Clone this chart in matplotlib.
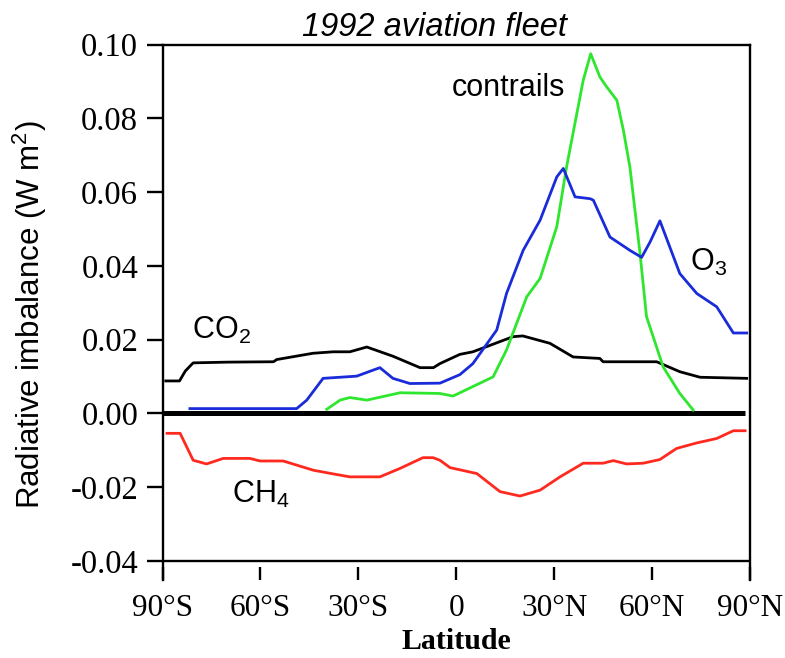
import matplotlib
matplotlib.use("Agg")
import matplotlib.pyplot as plt

plt.rcParams['font.family'] = ['Liberation Sans', 'DejaVu Sans']
plt.rcParams['mathtext.fontset'] = 'custom'
plt.rcParams['mathtext.rm'] = 'Liberation Sans'
plt.rcParams['mathtext.it'] = 'Liberation Sans:italic'

# ---- data (latitude in degrees, radiative imbalance in W m^-2) ----
co2_lat = [-89, -84.8, -83, -80.6, -70, -56, -55, -43.9, -37.7, -32.6, -27.4, -19.4,
           -11.1, -7, -5, 1.1, 5.1, 17.4, 20.4, 28.7, 35.8, 44, 45, 61.4, 68.5, 74.7, 89]
co2_val = [0.0088, 0.0088, 0.0115, 0.0137, 0.0139, 0.014, 0.0146, 0.0163, 0.0167, 0.0167,
           0.018, 0.0155, 0.0124, 0.0124, 0.0135, 0.016, 0.0167, 0.0208, 0.021, 0.019,
           0.0153, 0.0149, 0.014, 0.014, 0.0113, 0.0098, 0.0095]

o3_lat = [-81.6, -48.9, -45.8, -40.8, -30.5, -23.4, -19.4, -14.2, -5, 1.1, 5.1, 12.4,
          15.4, 20.5, 25.7, 30.8, 32.8, 36.4, 41, 42, 47.1, 53.2, 56.8, 59.4, 62.4,
          68.5, 73.7, 79.8, 84.9, 89]
o3_val = [0.0013, 0.0013, 0.0036, 0.0095, 0.0101, 0.0124, 0.0095, 0.0081, 0.0082, 0.0105,
          0.0135, 0.0226, 0.0325, 0.0442, 0.0524, 0.0641, 0.0664, 0.0587, 0.0582, 0.0578,
          0.0478, 0.0442, 0.0423, 0.0465, 0.0522, 0.0379, 0.0325, 0.0289, 0.0218, 0.0218]

con_lat = [-39.7, -35.6, -32.6, -27.4, -17.2, -5, -1, 11.3, 15.4, 21.6, 25.7, 30.8,
           33.8, 38.9, 41.2, 44, 46.1, 49.2, 51.2, 53.2, 56.3, 58.3, 63.4, 68.5, 72.6]
con_val = [0.0011, 0.0036, 0.0043, 0.0036, 0.0056, 0.0054, 0.0047, 0.0099, 0.0172, 0.0316,
           0.0366, 0.0506, 0.0668, 0.0903, 0.0975, 0.0912, 0.0885, 0.0849, 0.0768, 0.0668,
           0.0434, 0.0262, 0.0126, 0.0054, 0.0009]

ch4_lat = [-88.6, -84.6, -80.6, -76.5, -71.4, -63.2, -60.1, -53, -43.8, -37.7, -32.6,
           -23.4, -17.2, -10.2, -7.1, -5, -1.9, 6.3, 13.4, 19.5, 25.7, 31.8, 38.9, 45,
           48.1, 52.2, 57.3, 62.4, 67.5, 73.7, 79.8, 84.9, 88.5]
ch4_val = [-0.0054, -0.0054, -0.0127, -0.0137, -0.0122, -0.0122, -0.0129, -0.0129, -0.0154,
           -0.0164, -0.0172, -0.0172, -0.0149, -0.012, -0.012, -0.0127, -0.0147, -0.0163,
           -0.0212, -0.0224, -0.0208, -0.0172, -0.0135, -0.0135, -0.0128, -0.0137, -0.0135,
           -0.0125, -0.0095, -0.008, -0.0068, -0.0047, -0.0047]

zero_lat = [-90, 88.5]
zero_val = [0.0, 0.0]

xticks = [-90, -60, -30, 0, 30, 60, 90]
xticklabels = ['90°S', '60°S', '30°S', '0', '30°N', '60°N', '90°N']
yticks = [-0.04, -0.02, 0.00, 0.02, 0.04, 0.06, 0.08, 0.10]
yticklabels = ['-0.04', '-0.02', '0.00', '0.02', '0.04', '0.06', '0.08', '0.10']

# ---- figure ----
fig = plt.figure(figsize=(7.85, 6.58), dpi=100)
ax = fig.add_axes([162.5 / 785, 1 - 580 / 658, (750 - 162.5) / 785, (580 - 44.5) / 658])

lw = 2.0
ax.plot(zero_lat, zero_val, color='black', lw=3.6, solid_capstyle='butt', zorder=1)
ax.plot(co2_lat, co2_val, color='black', lw=lw, zorder=2)
ax.plot(ch4_lat, ch4_val, color='#ff2a1f', lw=lw, zorder=2)
ax.plot(con_lat, con_val, color='#2ee62e', lw=lw, zorder=3)
ax.plot(o3_lat, o3_val, color='#1a2bd9', lw=lw, zorder=4)

ax.set_xlim(-90, 90)
ax.set_ylim(-0.04516, 0.1)
ax.axhline(-0.04, color='black', lw=1.7, zorder=5)

for s in ['left', 'right', 'top']:
    ax.spines[s].set_linewidth(1.7)
ax.spines['bottom'].set_visible(False)

ax.set_xticks(xticks)
ax.set_xticklabels(xticklabels, family='Liberation Serif', fontsize=22.5)
ax.set_yticks(yticks)
ax.set_yticklabels(yticklabels, family='Liberation Serif', fontsize=23.5)
ax.tick_params(axis='x', direction='in', length=9.5, width=1.7, pad=10)
ax.tick_params(axis='y', direction='out', length=11.5, width=1.7, pad=6)

ax.set_xlabel('Latitude', family='Liberation Serif', fontweight='bold', fontsize=21.5, labelpad=4)
fig.text(30 / 785, 1 - 315 / 658, 'Radiative imbalance (W m$^2$)', rotation=90,
         ha='center', va='center', fontsize=22.5)
fig.text(435 / 785, 1 - 27 / 658, '1992 aviation fleet', style='italic',
         ha='center', va='center', fontsize=23.5)

ax.text(15.9, 0.0881, 'contrails', ha='center', va='center', fontsize=22)
ax.text(-81, 0.0226, 'CO$_2$', ha='left', va='center', fontsize=22)
ax.text(71.6, 0.041, 'O$_3$', ha='left', va='center', fontsize=22)
ax.text(-68.7, -0.0221, 'CH$_4$', ha='left', va='center', fontsize=22)

fig.savefig('out.png', dpi=100)
